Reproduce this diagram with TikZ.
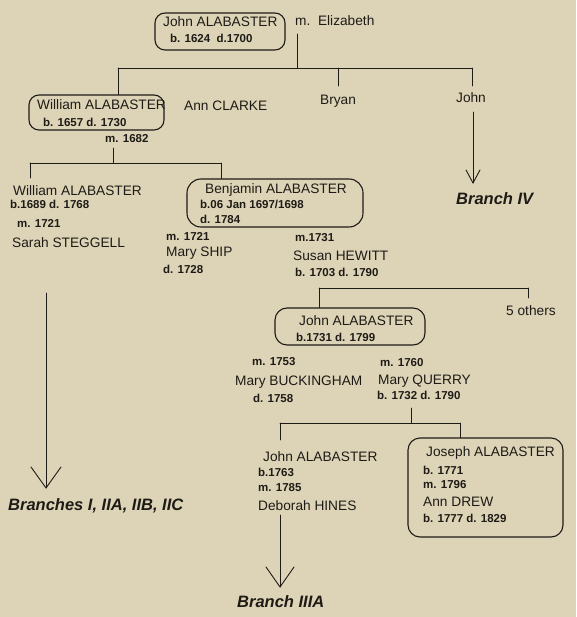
\documentclass[tikz,border=0pt]{standalone}
\usepackage{fontspec}
\setmainfont{Liberation Sans}
\definecolor{paper}{RGB}{221,212,183}
\definecolor{ink}{RGB}{30,27,22}
\begin{document}
\begin{tikzpicture}[x=1pt,y=-1pt,
  nm/.style={anchor=west,inner sep=0pt,text=ink,font=\fontsize{13.7}{15}\selectfont},
  dt/.style={anchor=west,inner sep=0pt,text=ink,font=\bfseries\fontsize{11.5}{13}\selectfont},
  br/.style={anchor=west,inner sep=0pt,text=ink,font=\bfseries\itshape\fontsize{16.5}{18}\selectfont},
  pbox/.style={draw=ink,line width=1.1pt,rectangle,inner sep=0pt},
  ln/.style={draw=ink,line width=0.9pt,line cap=round,line join=round}
]
\fill[paper] (0,0) rectangle (576,617);
\useasboundingbox (0,0) rectangle (576,617);

% ---- generation 1
\node[pbox,rounded corners=10pt,minimum width=130pt,minimum height=37pt] (b1) at (220,31.5) {};
\node[nm] (t1) at (163,22) {John ALABASTER};
\node[dt] (t1d) at (170,38) {b. 1624 \ d.1700};
\node[nm] (sp1) at (295,21) {m.\ \ Elizabeth};
\coordinate (m1) at (297,34);
\coordinate (bar1) at (297,68);
\coordinate (bar1l) at (118,68);
\coordinate (bar1r) at (472,68);

% ---- generation 2
\node[pbox,rounded corners=10pt,minimum width=135pt,minimum height=35pt] (b2) at (96.5,112.5) {};
\node[nm] (t2) at (37,105) {William ALABASTER};
\node[dt] (t2d) at (43,122) {b. 1657 d. 1730};
\node[dt] (t2m) at (105,139) {m. 1682};
\node[nm] (ann) at (184,106) {Ann CLARKE};
\node[nm,anchor=center] (bryan) at (338,101) {Bryan};
\node[nm,anchor=center] (john2) at (471,98) {John};
\coordinate (bryantop) at (338,86);
\coordinate (johntop) at (472,86);
\coordinate (a4s) at (473,112);
\coordinate (a4t) at (473,183);
\node[br] (brIV) at (456,199) {Branch IV};

\draw[ln] (m1) -- (bar1);
\draw[ln] (bar1l) -- (bar1r);
\draw[ln] (bar1l) -- (b2.north -| bar1l);
\draw[ln] (bar1 -| bryantop) -- (bryantop);
\draw[ln] (bar1r) -- (johntop);
\draw[ln] (a4s) -- (a4t);
\draw[ln] ([xshift=-7pt,yshift=13pt]a4t) -- (a4t) -- ([xshift=7pt,yshift=13pt]a4t);

% ---- generation 3
\coordinate (m2) at (113,148);
\coordinate (bar2) at (113,163);
\coordinate (bar2l) at (30,163);
\coordinate (bar2r) at (221,163);
\coordinate (w3top) at (30,178);
\node[nm] (t3w) at (13,191) {William ALABASTER};
\node[dt] (t3wd) at (10,204) {b.1689 d. 1768};
\node[dt] (t3wm) at (17,223) {m. 1721};
\node[nm] (t3ws) at (12,243) {Sarah STEGGELL};

\node[pbox,rounded corners=14pt,minimum width=176pt,minimum height=48pt] (b3) at (275,203) {};
\node[nm] (t3b) at (205,190) {Benjamin ALABASTER};
\node[dt] (t3bd) at (200,204) {b.06 Jan 1697/1698};
\node[dt] (t3bx) at (200,219) {d. 1784};
\node[dt] (t3m1) at (166,236) {m. 1721};
\node[nm] (t3s1) at (166,253) {Mary SHIP};
\node[dt] (t3s1d) at (163,269) {d. 1728};
\node[dt] (t3m2) at (295,238) {m.1731};
\node[nm] (t3s2) at (293,256) {Susan HEWITT};
\node[dt] (t3s2d) at (295,272) {b. 1703 d. 1790};

\draw[ln] (m2) -- (bar2);
\draw[ln] (bar2l) -- (bar2r);
\draw[ln] (bar2l) -- (w3top);
\draw[ln] (bar2r) -- (b3.north -| bar2r);

\coordinate (a1s) at (46,293);
\coordinate (a1t) at (46,488);
\node[br] (brI) at (8,506) {Branches I, IIA, IIB, IIC};
\draw[ln] (a1s) -- (a1t);
\draw[ln] ([xshift=-15pt,yshift=21pt]a1t) -- (a1t) -- ([xshift=15pt,yshift=21pt]a1t);

% ---- generation 4
\coordinate (bar3l) at (319,288);
\coordinate (bar3r) at (528,288);
\coordinate (otop) at (528,298);
\node[pbox,rounded corners=12pt,minimum width=150pt,minimum height=37pt] (b4) at (350,326.5) {};
\node[nm] (t4) at (299,321) {John ALABASTER};
\node[dt] (t4d) at (296,337) {b.1731 d. 1799};
\node[nm] (oth) at (506,311) {5 others};
\draw[ln] (bar3l) -- (bar3r);
\draw[ln] (bar3l) -- (b4.north -| bar3l);
\draw[ln] (bar3r) -- (otop);

\node[dt] (t4m1) at (252,362) {m. 1753};
\node[nm] (t4s1) at (235,382) {Mary BUCKINGHAM};
\node[dt] (t4s1d) at (253,398) {d. 1758};
\node[dt] (t4m2) at (380,363) {m. 1760};
\node[nm] (t4s2) at (378,381) {Mary QUERRY};
\node[dt] (t4s2d) at (377,395) {b. 1732 d. 1790};

% ---- generation 5
\coordinate (m4) at (411,408);
\coordinate (bar4) at (411,423);
\coordinate (bar4l) at (280,423);
\coordinate (bar4r) at (460,423);
\coordinate (j5top) at (280,440);
\node[nm] (t5j) at (263,457) {John ALABASTER};
\node[dt] (t5jd) at (258,472) {b.1763};
\node[dt] (t5jm) at (258,488) {m. 1785};
\node[nm] (t5js) at (258,506) {Deborah HINES};

\node[pbox,rounded corners=12pt,minimum width=155pt,minimum height=99pt] (b5) at (485.5,487.5) {};
\node[nm] (t5o) at (426,453) {Joseph ALABASTER};
\node[dt] (t5od) at (423,470) {b. 1771};
\node[dt] (t5om) at (423,485) {m. 1796};
\node[nm] (t5os) at (423,502) {Ann DREW};
\node[dt] (t5osd) at (423,518) {b. 1777 d. 1829};

\draw[ln] (m4) -- (bar4);
\draw[ln] (bar4l) -- (bar4r);
\draw[ln] (bar4l) -- (j5top);
\draw[ln] (bar4r) -- (b5.north -| bar4r);

\coordinate (a3s) at (280,515);
\coordinate (a3t) at (280,587);
\node[br] (brIII) at (237,602) {Branch IIIA};
\draw[ln] (a3s) -- (a3t);
\draw[ln] ([xshift=-14pt,yshift=20pt]a3t) -- (a3t) -- ([xshift=14pt,yshift=20pt]a3t);
\end{tikzpicture}
\end{document}
